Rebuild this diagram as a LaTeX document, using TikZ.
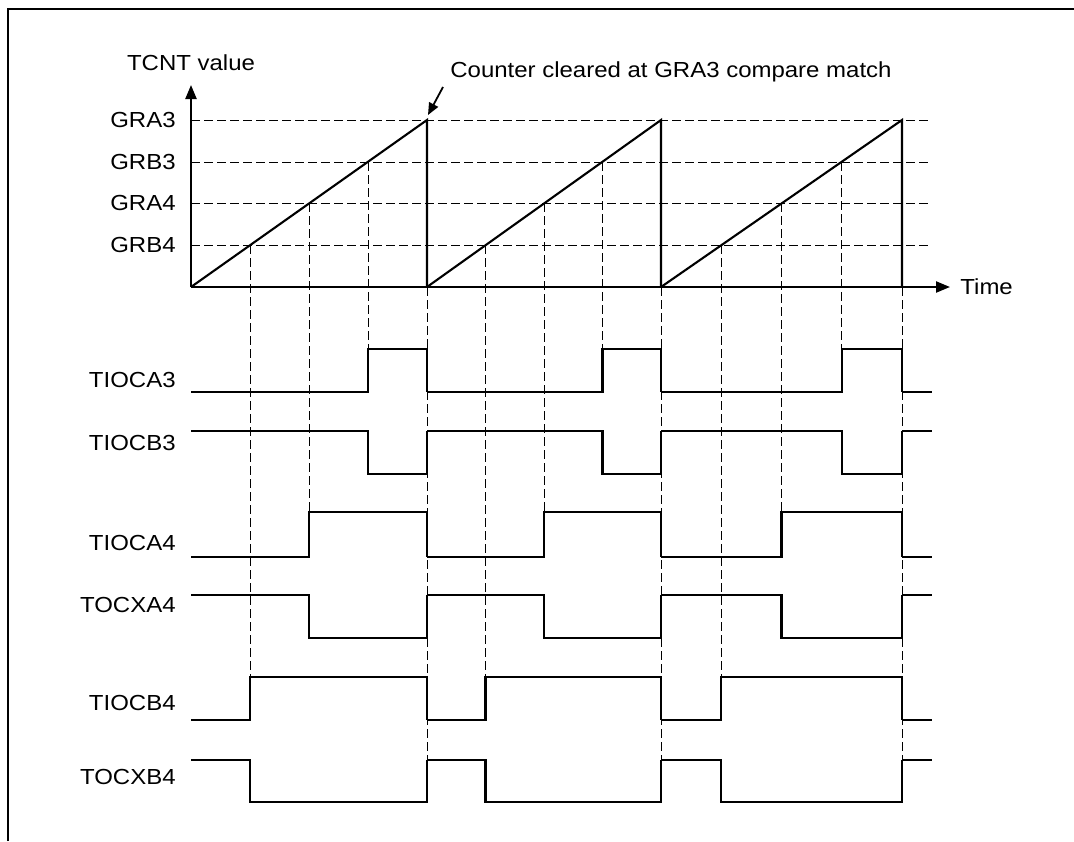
\documentclass[tikz,border=0pt]{standalone}
\usepackage{fontspec}
\setmainfont[FakeStretch=1.1]{Liberation Sans}
\usetikzlibrary{arrows.meta}

\begin{document}
\begin{tikzpicture}[x=0.5pt, y=-0.5pt, font=\fontsize{10.9}{13}\selectfont,
        line/.style={line width=1.05pt},
        grid/.style={line width=0.45pt, dash pattern=on 4.5pt off 2pt},
        axis/.style={line width=1.1pt, -{Triangle[length=7pt, width=5.5pt]}},
        lbl/.style={anchor=east, inner sep=0pt}
    ]
        \useasboundingbox (0,0) rectangle (1074,841);
        \draw[line width=0.8pt] (8,841) -- (8,9) -- (1074,9);

        % axes
        \coordinate (O) at (191,287);
        \coordinate (ytip) at (191,85);
        \coordinate (xtip) at (950,287);
        \draw[axis] (O) -- (ytip);
        \draw[axis] (O) -- (xtip);
        \node[anchor=base] (tcnt) at (191,70) {TCNT value};
        \node[anchor=west, inner sep=0pt] (time) at (960,287) {Time};

        \foreach \name/\y in {GRA3/120, GRB3/162, GRA4/203, GRB4/245} {
            \node[lbl] (lvl-\name) at (176,\y) {\name};
            \draw[grid] (191,\y) -- (932,\y);
        }

        % counter ramps and compare points
        \foreach \s/\e in {191/427, 427/661, 661/902} {
            \pgfmathsetmacro\xq{\s+0.25*(\e-\s)}
            \pgfmathsetmacro\xh{\s+0.5*(\e-\s)}
            \pgfmathsetmacro\xt{\s+0.75*(\e-\s)}
            \draw[grid] (\xq,245) -- (\xq,677);
            \draw[grid] (\xh,203) -- (\xh,512);
            \draw[grid] (\xt,162) -- (\xt,349);
            \draw[grid] (\e,287) -- (\e,760);
            \draw[line] (\s,287) -- (\e,120) -- (\e,287);
        }

        % output waveforms
        \foreach \name/\ly/\a/\b/\f in {TIOCA3/380/392/349/0.75, TIOCB3/443/431/474/0.75,
                TIOCA4/543/557/512/0.5, TOCXA4/605/595/638/0.5,
                TIOCB4/703/720/677/0.25, TOCXB4/777/760/802/0.25} {
            \node[lbl] (sig-\name) at (176,\ly) {\name};
            \foreach \s/\e in {191/427, 427/661, 661/902} {
                \pgfmathsetmacro\xw{\s+\f*(\e-\s)}
                \draw[line] (\s,\a) -- (\xw,\a) -- (\xw,\b) -- (\e,\b) -- (\e,\a);
            }
            \draw[line] (902,\a) -- (932,\a);
        }

        \node[anchor=base west, inner sep=0pt] (note) at (450,77) {Counter cleared at GRA3 compare match};
        \coordinate (tail) at (443,87);
        \coordinate (peak) at (428,115);
        \draw[line width=0.9pt, -{Triangle[length=6pt, width=5pt]}] (tail) -- (peak);
    \end{tikzpicture}
\end{document}
